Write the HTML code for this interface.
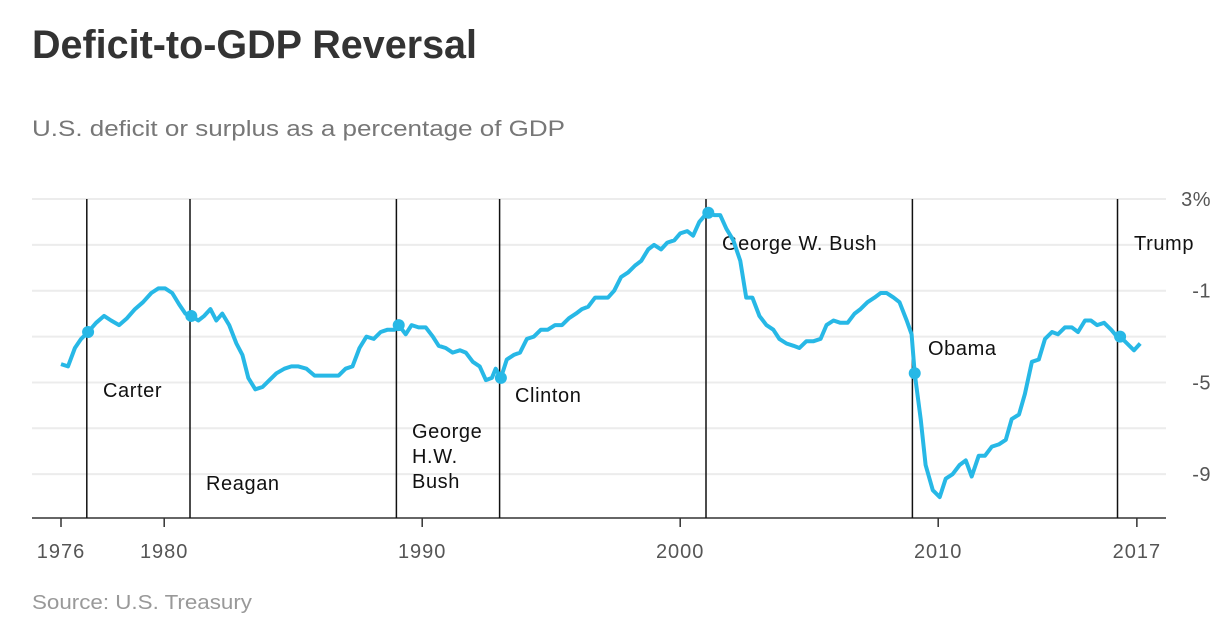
<!DOCTYPE html>
<html><head><meta charset="utf-8"><style>
body{margin:0;background:#fff;width:1228px;height:636px;overflow:hidden;font-family:"Liberation Sans",sans-serif}
</style></head><body>
<svg width="1228" height="636" xmlns="http://www.w3.org/2000/svg">
<text x="32" y="58" font-size="40" font-weight="bold" fill="#333" textLength="445" lengthAdjust="spacingAndGlyphs">Deficit-to-GDP Reversal</text>
<text x="32" y="136" font-size="22" fill="#777" textLength="533" lengthAdjust="spacingAndGlyphs">U.S. deficit or surplus as a percentage of GDP</text>
<text x="32" y="609" font-size="20" fill="#999" textLength="220" lengthAdjust="spacingAndGlyphs">Source: U.S. Treasury</text>
<g id="grid"></g><g id="axes"></g><g id="pres"></g><g id="series"></g>
</svg>
<script>
const yTicks=[3,1,-1,-3,-5,-7,-9];
const yTickLabels=["3%","","-1","","-5","","-9"];
const xTicks=[1976,1980,1990,2000,2010,2017.7];
const xTickLabels=["1976","1980","1990","2000","2010","2017"];
const years=[1976,1976.27,1976.54,1976.78,1977.05,1977.36,1977.67,1977.94,1978.25,1978.56,1978.87,1979.18,1979.5,1979.77,1980.04,1980.31,1980.58,1980.82,1981.05,1981.32,1981.55,1981.79,1982.02,1982.25,1982.52,1982.8,1983.03,1983.26,1983.53,1983.81,1984.08,1984.35,1984.66,1984.93,1985.2,1985.51,1985.83,1986.14,1986.45,1986.76,1987.03,1987.3,1987.57,1987.84,1988.12,1988.39,1988.66,1988.93,1989.09,1989.36,1989.59,1989.86,1990.14,1990.41,1990.64,1990.91,1991.18,1991.46,1991.69,1991.96,1992.23,1992.47,1992.7,1992.85,1993.05,1993.28,1993.55,1993.79,1994.06,1994.33,1994.6,1994.87,1995.15,1995.42,1995.69,1995.96,1996.19,1996.43,1996.7,1996.93,1997.2,1997.44,1997.71,1997.98,1998.25,1998.49,1998.76,1998.99,1999.26,1999.5,1999.77,2000,2000.27,2000.5,2000.74,2000.97,2001.09,2001.32,2001.55,2001.79,2002.06,2002.33,2002.56,2002.8,2003.07,2003.34,2003.61,2003.84,2004.12,2004.39,2004.62,2004.89,2005.17,2005.44,2005.67,2005.94,2006.21,2006.49,2006.76,2006.99,2007.26,2007.53,2007.77,2008,2008.27,2008.5,2008.78,2008.97,2009.09,2009.32,2009.51,2009.79,2010.06,2010.29,2010.56,2010.83,2011.07,2011.3,2011.57,2011.81,2012.08,2012.35,2012.62,2012.85,2013.13,2013.36,2013.63,2013.9,2014.14,2014.41,2014.64,2014.91,2015.18,2015.42,2015.69,2015.92,2016.16,2016.43,2016.7,2016.93,2017.05,2017.32,2017.59,2017.83];
const values=[-4.2,-4.3,-3.5,-3.1,-2.8,-2.4,-2.1,-2.3,-2.5,-2.2,-1.8,-1.5,-1.1,-0.9,-0.9,-1.1,-1.6,-2.0,-2.1,-2.3,-2.1,-1.8,-2.3,-2.0,-2.5,-3.3,-3.8,-4.8,-5.3,-5.2,-4.9,-4.6,-4.4,-4.3,-4.3,-4.4,-4.7,-4.7,-4.7,-4.7,-4.4,-4.3,-3.5,-3.0,-3.1,-2.8,-2.7,-2.7,-2.5,-2.9,-2.5,-2.6,-2.6,-3.0,-3.4,-3.5,-3.7,-3.6,-3.7,-4.1,-4.3,-4.9,-4.8,-4.4,-4.8,-4.0,-3.8,-3.7,-3.1,-3.0,-2.7,-2.7,-2.5,-2.5,-2.2,-2.0,-1.8,-1.7,-1.3,-1.3,-1.3,-1.0,-0.4,-0.2,0.1,0.3,0.8,1.0,0.8,1.1,1.2,1.5,1.6,1.4,2.0,2.3,2.4,2.3,2.3,1.7,1.2,0.3,-1.3,-1.3,-2.1,-2.5,-2.7,-3.1,-3.3,-3.4,-3.5,-3.2,-3.2,-3.1,-2.5,-2.3,-2.4,-2.4,-2.0,-1.8,-1.5,-1.3,-1.1,-1.1,-1.3,-1.5,-2.3,-2.9,-4.6,-6.6,-8.6,-9.7,-10.0,-9.2,-9.0,-8.6,-8.4,-9.1,-8.2,-8.2,-7.8,-7.7,-7.5,-6.6,-6.4,-5.5,-4.1,-4.0,-3.1,-2.8,-2.9,-2.6,-2.6,-2.8,-2.3,-2.3,-2.5,-2.4,-2.7,-3.0,-3.0,-3.3,-3.6,-3.3];
const presNames=["Carter","Reagan","George H.W. Bush","Clinton","George W. Bush","Obama","Trump"];
const presYears=[1977.0,1981.0,1989.0,1993.0,2001.0,2009.0,2016.95];
const NS="http://www.w3.org/2000/svg";
const X=t=>61+(t-1976)*25.8;
const Y=v=>199+(3-v)*22.93;
function mk(tag,attrs,parent){const e=document.createElementNS(NS,tag);for(const k in attrs)e.setAttribute(k,attrs[k]);document.getElementById(parent).appendChild(e);return e;}
yTicks.forEach((v,i)=>{
  const g=mk('line',{x1:32,x2:1166,y1:Y(v),y2:Y(v),stroke:'#ececec','stroke-width':2},'grid');
  
  
  if(yTickLabels[i]){const t=mk('text',{x:1211,y:Y(v)+7,'text-anchor':'end','font-size':20,fill:'#555','letter-spacing':0.5},'axes');t.textContent=yTickLabels[i];
  
  }
});
const base=mk('line',{x1:32,x2:1166,y1:518,y2:518,stroke:'#333','stroke-width':1.5},'axes');


xTicks.forEach((t,i)=>{
  const tk=mk('line',{x1:X(t),x2:X(t),y1:518,y2:527,stroke:'#333','stroke-width':1.5},'axes');
  
  
  const lb=mk('text',{x:X(t),y:558,'text-anchor':'middle','font-size':20,fill:'#555','letter-spacing':1},'axes');lb.textContent=xTickLabels[i];
  
  
});
function idxAt(t){for(let i=0;i<years.length;i++){if(years[i]>=t)return i;}return years.length-1;}
const labelPos=[[103,397],[206,490],[412,438],[515,402],[722,250],[928,355],[1134,250]];
presYears.forEach((t,i)=>{
  const l=mk('line',{x1:X(t),x2:X(t),y1:199,y2:518,stroke:'#111','stroke-width':1.5},'pres');
  
  
  const [lx,ly]=labelPos[i];
  const words=presNames[i]==="George H.W. Bush"?["George","H.W.","Bush"]:[presNames[i]];
  words.forEach((w,j)=>{const tx=mk('text',{x:lx,y:ly+j*25,'font-size':20,fill:'#111','letter-spacing':0.6},'pres');tx.textContent=w;
    
    });
});
const path=mk('path',{d:years.map((t,i)=>(i?'L':'M')+X(t).toFixed(1)+','+Y(values[i]).toFixed(1)).join(''),fill:'none',stroke:'#27b8e6','stroke-width':4,'stroke-linejoin':'round'},'series');


presYears.forEach(t=>{
  const k=idxAt(t);
  const c=mk('circle',{cx:X(years[k]),cy:Y(values[k]),r:6,fill:'#27b8e6'},'series');
  
  
});
</script>
</body></html>
